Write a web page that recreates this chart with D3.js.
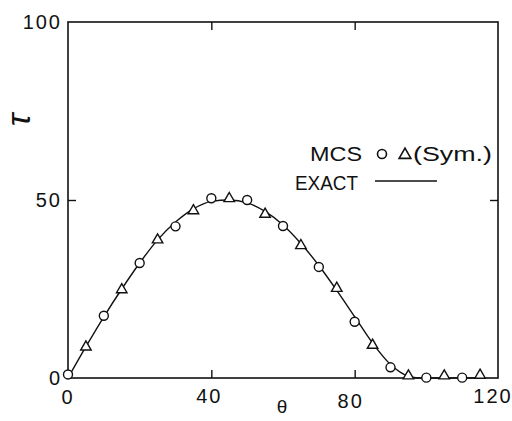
<!DOCTYPE html>
<html><head><meta charset="utf-8">
<script src="https://cdn.jsdelivr.net/npm/d3@7"></script>
<style>
html,body{margin:0;padding:0;background:#fff;overflow:hidden;}
text{font-family:"Liberation Sans",Arial,sans-serif;fill:#111;}
</style></head>
<body>
<svg id="chart" width="512" height="421"></svg>
<script>
// ---- data ----
const circleTheta = [0, 10, 20, 30, 40, 50, 60, 70, 80, 90, 100, 110];
const circleVal   = [1, 17.5, 32.3, 42.6, 50.5, 50.0, 42.7, 31.2, 15.8, 3.0, 0.1, 0.1];
const triTheta    = [5, 15, 25, 35, 45, 55, 65, 75, 85, 95, 105, 115];
const triVal      = [8.7, 24.8, 38.8, 47.0, 50.4, 46.0, 37.2, 25.2, 9.2, 0.6, 0.6, 0.8];
const exactTheta  = [0, 5, 10, 15, 20, 25, 30, 35, 40, 45, 50, 55, 60, 65, 70, 75, 80, 85, 90, 95, 98, 105, 115];
const exactVal    = [0, 8.8, 17.2, 25.0, 32.3, 38.8, 43.8, 47.5, 49.6, 50.0, 49.2, 46.8, 43.0, 37.8, 31.6, 24.6, 17.2, 9.8, 3.8, 0.5, 0, 0, 0];
const xTicks = [0, 40, 80, 120];
const yTicks = [0, 50, 100];
const legendMCS = "MCS";
const legendSym = "(Sym.)";
const legendExact = "EXACT";

const svg = d3.select("#chart");
const x = d3.scaleLinear().domain([0, 120]).range([68, 498]);
const y = d3.scaleLinear().domain([0, 100]).range([378, 22]);

// frame
svg.append("rect").attr("x", x(0)).attr("y", y(100))
  .attr("width", x(120) - x(0)).attr("height", y(0) - y(100))
  .attr("fill", "none").attr("stroke", "#111").attr("stroke-width", 1.6);

// inward ticks via axes
const tl = 8;
svg.append("g").attr("transform", `translate(0,${y(0)})`)
  .call(d3.axisTop(x).tickValues([40, 80]).tickSize(tl).tickFormat(""))
  .call(g => g.select(".domain").remove())
  .selectAll("line").attr("stroke", "#111").attr("stroke-width", 1.4);
svg.append("g").attr("transform", `translate(0,${y(100)})`)
  .call(d3.axisBottom(x).tickValues([40, 80]).tickSize(tl).tickFormat(""))
  .call(g => g.select(".domain").remove())
  .selectAll("line").attr("stroke", "#111").attr("stroke-width", 1.4);
svg.append("g").attr("transform", `translate(${x(0)},0)`)
  .call(d3.axisRight(y).tickValues([50]).tickSize(tl).tickFormat(""))
  .call(g => g.select(".domain").remove())
  .selectAll("line").attr("stroke", "#111").attr("stroke-width", 1.4);
svg.append("g").attr("transform", `translate(${x(120)},0)`)
  .call(d3.axisLeft(y).tickValues([50]).tickSize(tl).tickFormat(""))
  .call(g => g.select(".domain").remove())
  .selectAll("line").attr("stroke", "#111").attr("stroke-width", 1.4);

// tick labels
const xLabelDy = {0: 404, 40: 403, 80: 408, 120: 403};
svg.append("g").selectAll("text").data(xTicks).join("text")
  .attr("x", d => x(d) - (d === 120 ? 5 : d === 80 ? 4 : d === 40 ? 2 : 0))
  .attr("y", d => xLabelDy[d])
  .attr("text-anchor", "middle")
  .attr("font-size", 20).attr("letter-spacing", 2)
  .text(d => d);
svg.append("g").selectAll("text").data(yTicks).join("text")
  .attr("x", 62)
  .attr("y", d => y(d) + 7)
  .attr("text-anchor", "end")
  .attr("font-size", 20).attr("letter-spacing", 2)
  .text(d => d);

// axis titles
svg.append("text").attr("x", 282).attr("y", 413).attr("text-anchor", "middle")
  .attr("font-family", "DejaVu Sans").attr("font-size", 19).text("θ");
svg.append("text").attr("transform", "translate(30,120) rotate(-90)")
  .attr("text-anchor", "middle").attr("font-size", 34)
  .attr("font-family", "DejaVu Serif").attr("font-style", "italic").text("τ");

// exact curve
const line = d3.line().x(d => x(d[0])).y(d => y(d[1])).curve(d3.curveMonotoneX);
svg.append("path").datum(exactTheta.map((t, i) => [t, exactVal[i]]))
  .attr("d", line).attr("fill", "none").attr("stroke", "#111").attr("stroke-width", 1.4);

// markers
svg.append("g").selectAll("circle").data(circleTheta.map((t, i) => [t, circleVal[i]])).join("circle")
  .attr("cx", d => x(d[0])).attr("cy", d => y(d[1])).attr("r", 4.5)
  .attr("fill", "#fff").attr("stroke", "#111").attr("stroke-width", 1.4);
const tri = d3.symbol().type(d3.symbolTriangle).size(48);
svg.append("g").selectAll("path").data(triTheta.map((t, i) => [t, triVal[i]])).join("path")
  .attr("transform", d => `translate(${x(d[0])},${y(d[1])})`)
  .attr("d", tri).attr("fill", "#fff").attr("stroke", "#111").attr("stroke-width", 1.4);

// legend
svg.append("text").attr("x", 310).attr("y", 161).attr("font-size", 20)
  .attr("textLength", 52).attr("lengthAdjust", "spacingAndGlyphs").text(legendMCS);
svg.append("circle").attr("cx", 382).attr("cy", 154).attr("r", 4.5)
  .attr("fill", "#fff").attr("stroke", "#111").attr("stroke-width", 1.6);
svg.append("path").attr("transform", "translate(405,155)").attr("d", d3.symbol().type(d3.symbolTriangle).size(60))
  .attr("fill", "#fff").attr("stroke", "#111").attr("stroke-width", 1.6);
svg.append("text").attr("x", 413).attr("y", 161).attr("font-size", 20)
  .attr("textLength", 79).attr("lengthAdjust", "spacingAndGlyphs").text(legendSym);
svg.append("text").attr("x", 295).attr("y", 190).attr("font-size", 20)
  .attr("textLength", 63).attr("lengthAdjust", "spacingAndGlyphs").text(legendExact);
svg.append("line").attr("x1", 375).attr("x2", 437).attr("y1", 181).attr("y2", 181)
  .attr("stroke", "#111").attr("stroke-width", 1.4);
</script>
</body></html>
